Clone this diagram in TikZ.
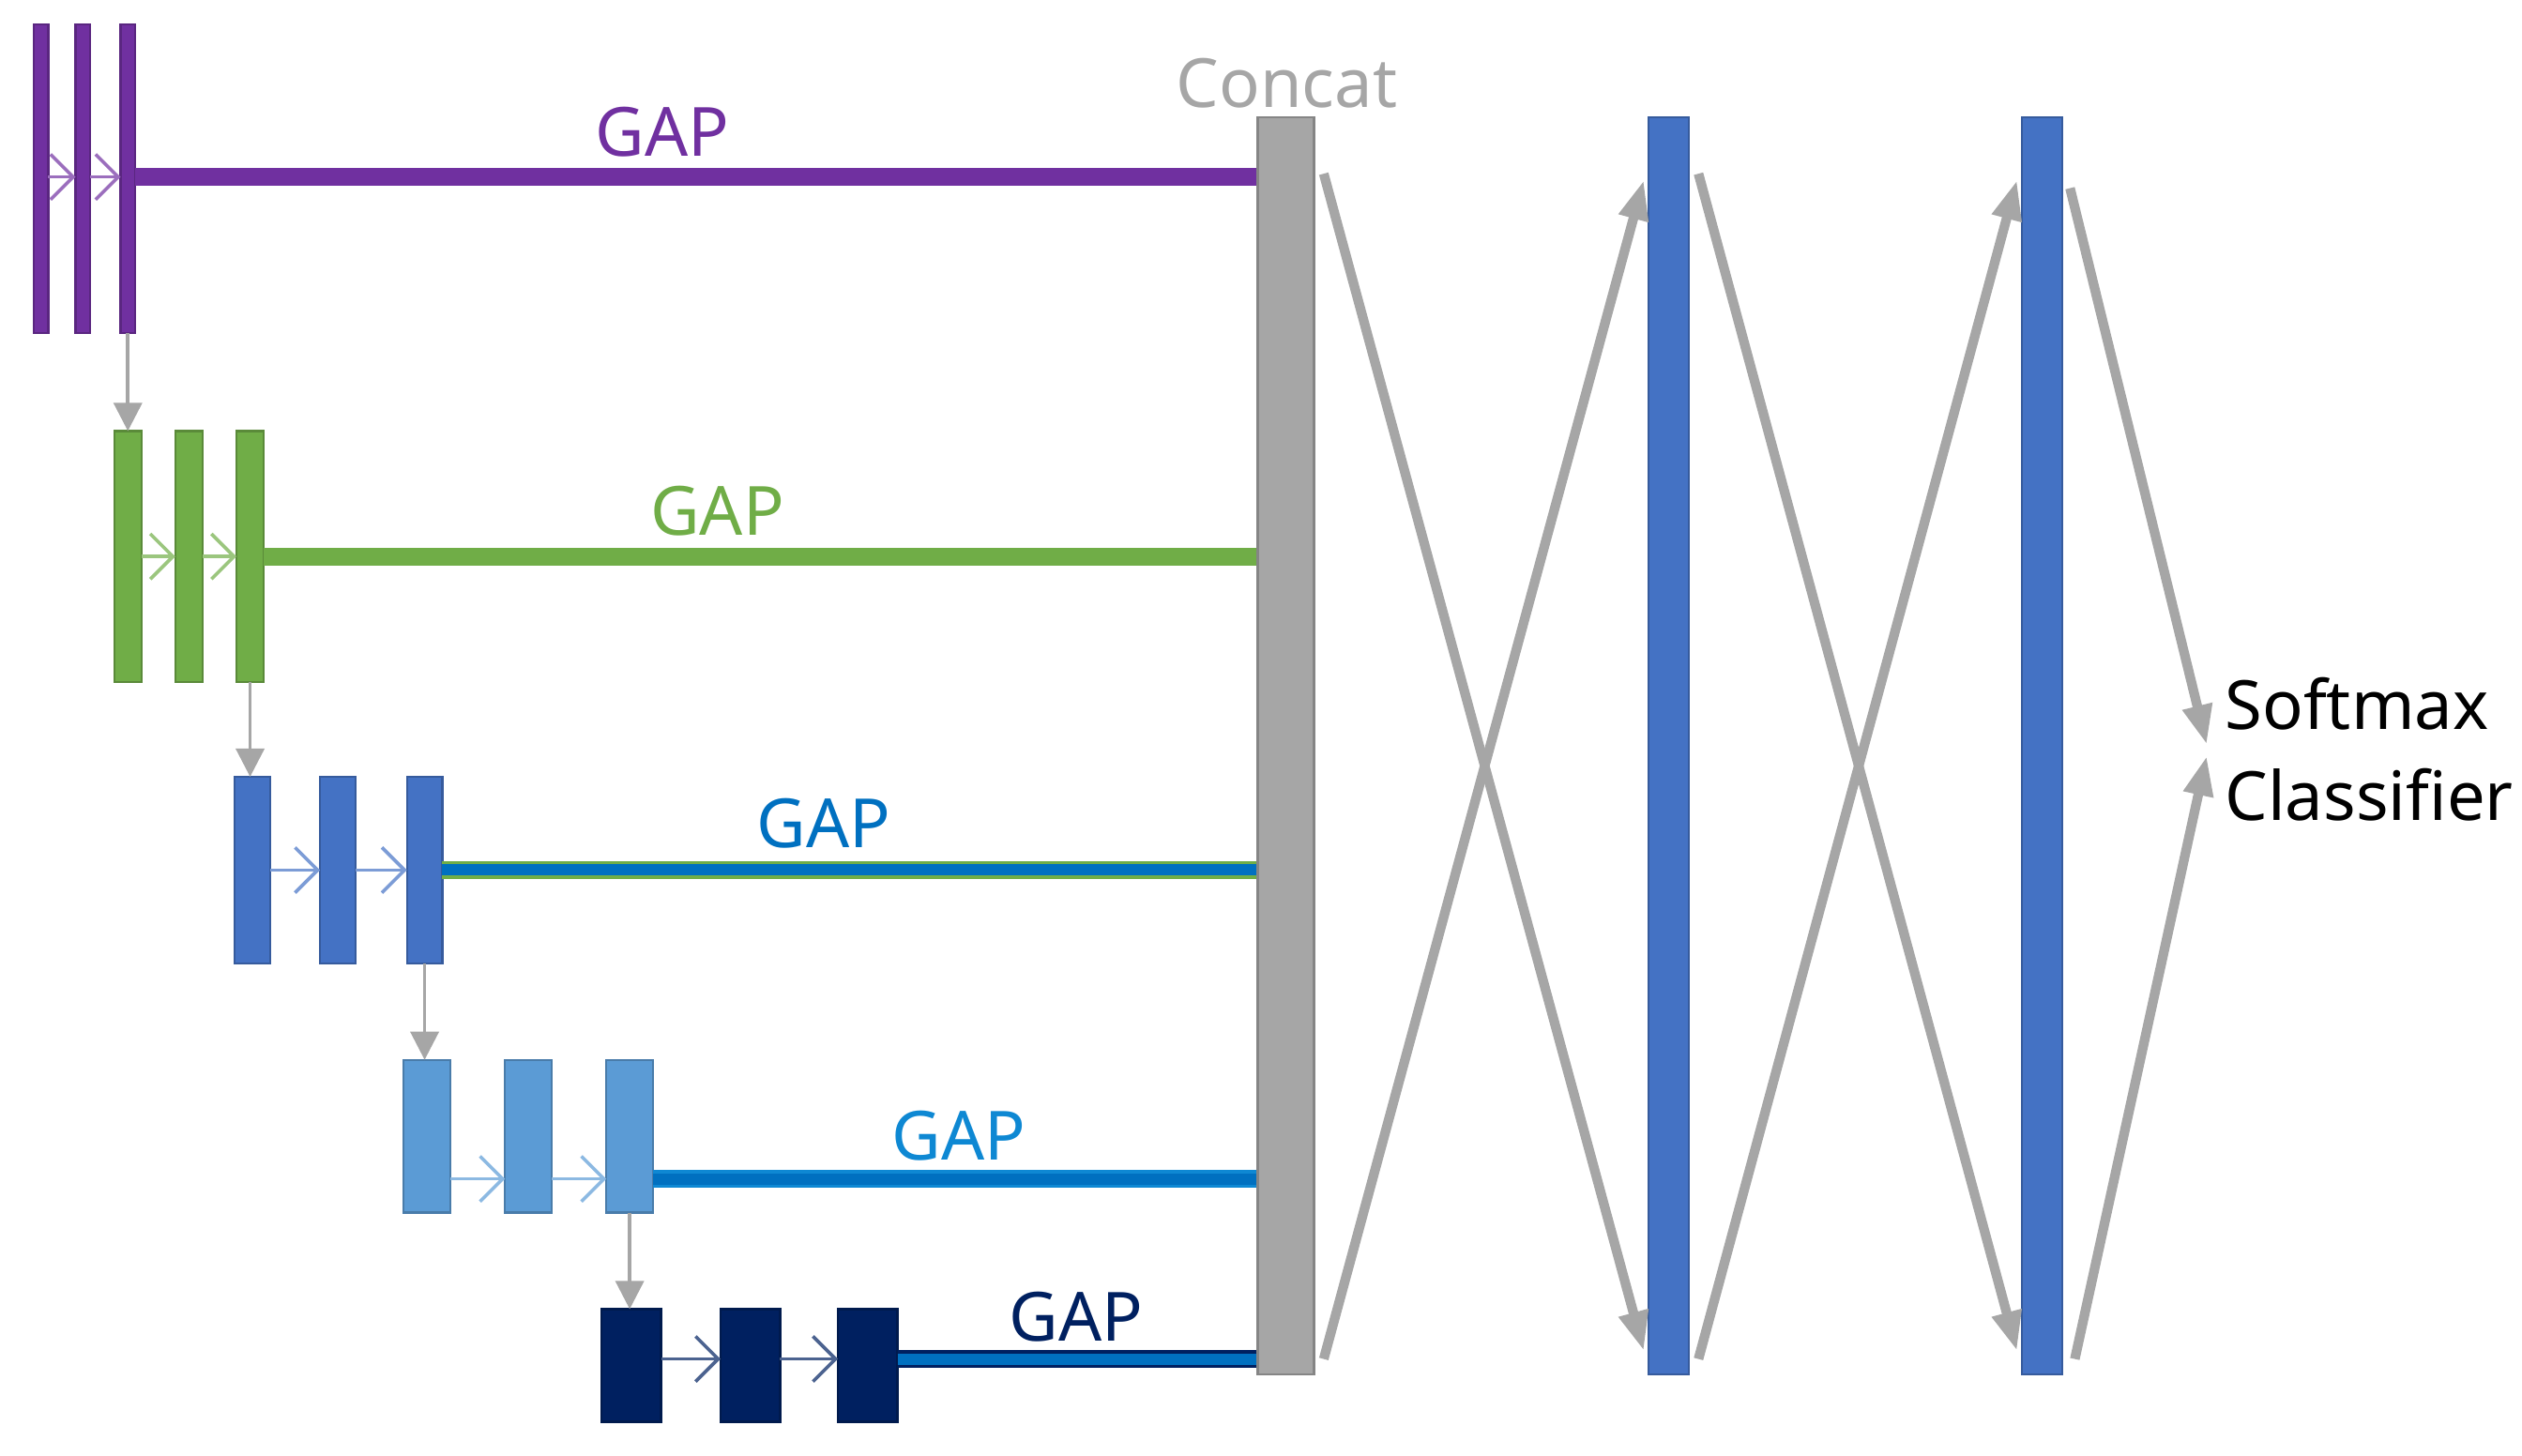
\documentclass[tikz,border=0pt]{standalone}
\usepackage{fontspec}
\setmainfont{Noto Sans}
\usetikzlibrary{arrows.meta}
\definecolor{cpurple}{HTML}{7030A0}
\definecolor{cgreen}{HTML}{70AD47}
\definecolor{cblue}{HTML}{4472C4}
\definecolor{clight}{HTML}{5B9BD5}
\definecolor{cnavy}{HTML}{002060}
\definecolor{cgrey}{HTML}{A6A6A6}
\definecolor{cgap}{HTML}{0070C0}
\tikzset{
  block/.style={draw=#1!80!black, line width=0.4pt, fill=#1, inner sep=0pt, outer sep=0pt, anchor=north west},
  step/.style={draw=#1, line width=0.6pt, -{Straight Barb[length=4pt,width=8pt]}},
  down/.style={draw=cgrey, line width=0.6pt, -{Triangle[length=5pt,width=5pt]}},
  gapline/.style={draw=#1, line width=3.2pt},
  gaptext/.style={text=#1, font=\fontsize{12}{14}\selectfont},
  fc/.style={draw=cgrey, line width=1.7pt, -{Triangle[length=7pt,width=5pt]}}
}
\begin{document}
\begin{tikzpicture}[x=0.01cm,y=-0.01cm]
\useasboundingbox (0,0) rectangle (1568,905);
% feature blocks, one row per stage
\foreach \r/\xa/\xb/\xc/\w/\yt/\h/\col/\ly/\gx/\gy/\tcol/\lcol in {
  1/21/47/75/9/15/192/cpurple/110/412/82/cpurple/cpurple,
  2/71/109/147/17/268/156/cgreen/346/446/318/cgreen/cgreen,
  3/146/199/253/22/483/116/cblue/541/512/512/cgap/cgreen,
  4/251/314/377/29/659/95/clight/733/596/706/cyan!70!blue/cyan!70!blue,
  5/374/448/521/37/814/70/cnavy/845/669/819/cnavy/cnavy}{
  \node[block=\col, minimum width=\w*0.01cm, minimum height=\h*0.01cm] (b\r a) at (\xa,\yt) {};
  \node[block=\col, minimum width=\w*0.01cm, minimum height=\h*0.01cm] (b\r b) at (\xb,\yt) {};
  \node[block=\col, minimum width=\w*0.01cm, minimum height=\h*0.01cm] (b\r c) at (\xc,\yt) {};
  \draw[step=\col!70!white] (b\r a.east |- 0,\ly) -- (b\r b.west |- 0,\ly);
  \draw[step=\col!70!white] (b\r b.east |- 0,\ly) -- (b\r c.west |- 0,\ly);
  \coordinate (g\r) at (782,\ly);
  \coordinate (h\r) at (b\r c.east |- g\r);
  \draw[gapline=\lcol] (h\r) -- (g\r);
  \draw[line width=2pt, cgap] (h\r) -- (g\r);
  \node[gaptext=\tcol] (t\r) at (\gx,\gy) {GAP};
}
\draw[line width=2.2pt, cpurple] (h1) -- (g1);
\draw[line width=2.2pt, cgreen] (h2) -- (g2);
% stage to stage
\draw[down] (b1c.south) -- (b2a.north -| b1c.south);
\draw[down] (b2c.south) -- (b3a.north -| b2c.south);
\draw[down] (b3c.south) -- (b4a.north -| b3c.south);
\draw[down] (b4c.south) -- (b5a.north -| b4c.south);
% concat and dense layers
\node[block=cgrey, minimum width=0.35cm, minimum height=7.81cm] (concat) at (782,73) {};
\node[text=cgrey, font=\fontsize{12}{14}\selectfont] (ctext) at (800,52) {Concat};
\node[block=cblue, minimum width=0.25cm, minimum height=7.81cm] (fc1) at (1025,73) {};
\node[block=cblue, minimum width=0.25cm, minimum height=7.81cm] (fc2) at (1257,73) {};
\node[align=left, font=\fontsize{12}{16}\selectfont] (soft) at (1473,466) {Softmax\\Classifier};
\coordinate (p1) at (823,108); \coordinate (p2) at (823,845);
\coordinate (q1) at (1022,112); \coordinate (q2) at (1022,840);
\coordinate (p3) at (1056,108); \coordinate (p4) at (1056,845);
\coordinate (q3) at (1254,112); \coordinate (q4) at (1254,840);
\coordinate (p5) at (1287,117); \coordinate (p6) at (1290,845);
\coordinate (s1) at (1372,463); \coordinate (s2) at (1372,470);
\draw[fc] (p1) -- (q2);
\draw[fc] (p2) -- (q1);
\draw[fc] (p3) -- (q4);
\draw[fc] (p4) -- (q3);
\draw[fc] (p5) -- (s1);
\draw[fc] (p6) -- (s2);
\end{tikzpicture}
\end{document}
